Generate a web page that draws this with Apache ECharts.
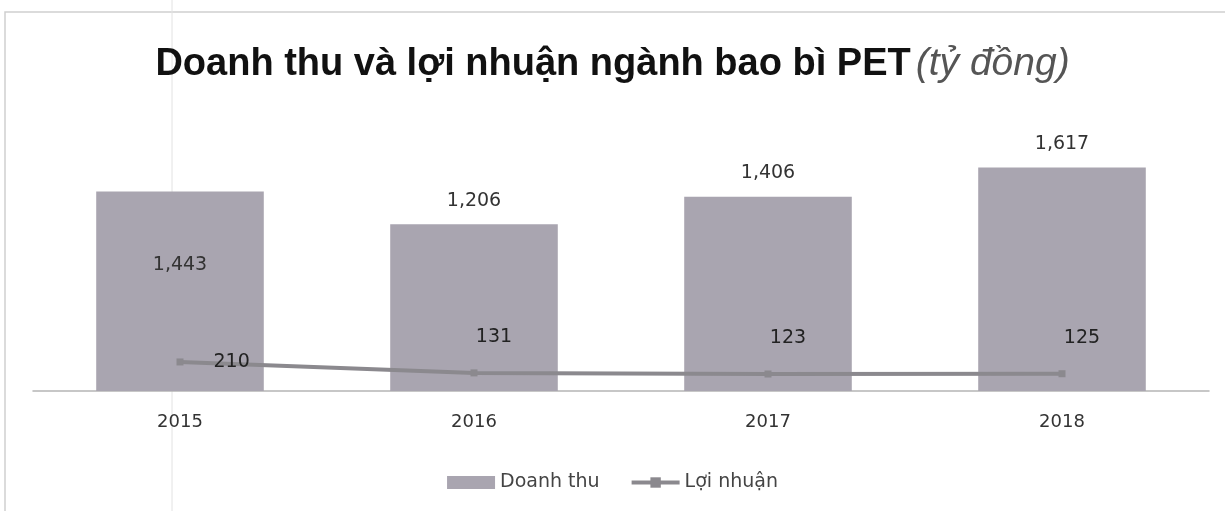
<!DOCTYPE html>
<html>
<head>
<meta charset="utf-8">
<script src="https://cdn.jsdelivr.net/npm/echarts@6/dist/echarts.min.js"></script>
<style>
  html,body{margin:0;padding:0;background:#fff;}
  #main{width:1225px;height:511px;}
</style>
</head>
<body>
<div id="main"></div>
<script>
// 年份
var years = ['2015', '2016', '2017', '2018'];
// 1、Doanh thu (tỷ đồng)
var doanhThu = [1443, 1206, 1406, 1617];
// 2、Lợi nhuận (tỷ đồng)
var loiNhuan = [210, 131, 123, 125];

// số định dạng 1,443
function numFmt(v){
  return String(v).replace(/\B(?=(\d{3})+(?!\d))/g, ',');
}

var barColor = '#a9a5b0';
var lineColor = '#8b898e';

var myChart = echarts.init(document.getElementById('main'));

// nhãn cột: năm 2015 nằm trong cột, các năm khác nằm trên
var barData = doanhThu.map(function(v, i){
  if(i == 0){
    return {value: v, label: {position: 'insideTop', distance: 64}};
  }
  return v;
});
var lineData = loiNhuan.map(function(v, i){
  if(i == 0){
    return {value: v, label: {position: 'right', distance: 30, offset: [0, 0]}};
  }
  return v;
});

var option = {
  animation: false,
  title: {
    text: '{b|Doanh thu và lợi nhuận ngành bao bì PET} {i|(tỷ đồng)}',
    left: 'center',
    top: 40,
    textStyle: {
      rich: {
        b: {fontFamily: 'Liberation Sans', fontWeight: 'bold', fontSize: 38, color: '#111'},
        i: {fontFamily: 'Liberation Sans', fontStyle: 'italic', fontWeight: 'normal', fontSize: 39, color: '#555'}
      }
    }
  },
  graphic: [
    {type: 'rect', shape: {x: 5, y: 12, width: 1240, height: 520}, style: {fill: 'none', stroke: '#cfcfcf', lineWidth: 1.5}},
    {type: 'line', shape: {x1: 172, y1: 0, x2: 172, y2: 511}, style: {stroke: '#e2e2e2', lineWidth: 1}}
  ],
  legend: {
    bottom: 14,
    left: 'center',
    itemWidth: 48,
    itemHeight: 13,
    itemGap: 30,
    textStyle: {fontFamily: 'DejaVu Sans', fontSize: 19, color: '#444'},
    data: [
      {name: 'Doanh thu', icon: 'rect'},
      {name: 'Lợi nhuận', lineStyle: {width: 4}}
    ]
  },
  grid: {left: 33, right: 16, top: 156, bottom: 120},
  xAxis: {
    type: 'category',
    data: years,
    axisTick: {show: false},
    axisLine: {lineStyle: {color: '#b5b5b5', width: 1.5}},
    axisLabel: {fontFamily: 'DejaVu Sans', fontSize: 18, color: '#333', margin: 22}
  },
  yAxis: {
    type: 'value',
    min: 0,
    max: 1700,
    show: false,
    splitLine: {show: false}
  },
  series: [
    {
      name: 'Doanh thu',
      type: 'bar',
      barWidth: '57%',
      itemStyle: {color: barColor},
      label: {
        show: true,
        position: 'top',
        distance: 14,
        fontFamily: 'DejaVu Sans',
        fontSize: 19,
        color: '#333',
        formatter: function(p){ return numFmt(p.value); }
      },
      data: barData
    },
    {
      name: 'Lợi nhuận',
      type: 'line',
      symbol: 'rect',
      symbolSize: 7,
      z: 5,
      lineStyle: {color: lineColor, width: 4},
      itemStyle: {color: lineColor},
      label: {
        show: true,
        position: 'top',
        distance: 23,
        offset: [20, 0],
        fontFamily: 'DejaVu Sans',
        fontSize: 19,
        color: '#222'
      },
      data: lineData
    }
  ]
};

myChart.setOption(option);
</script>
</body>
</html>
